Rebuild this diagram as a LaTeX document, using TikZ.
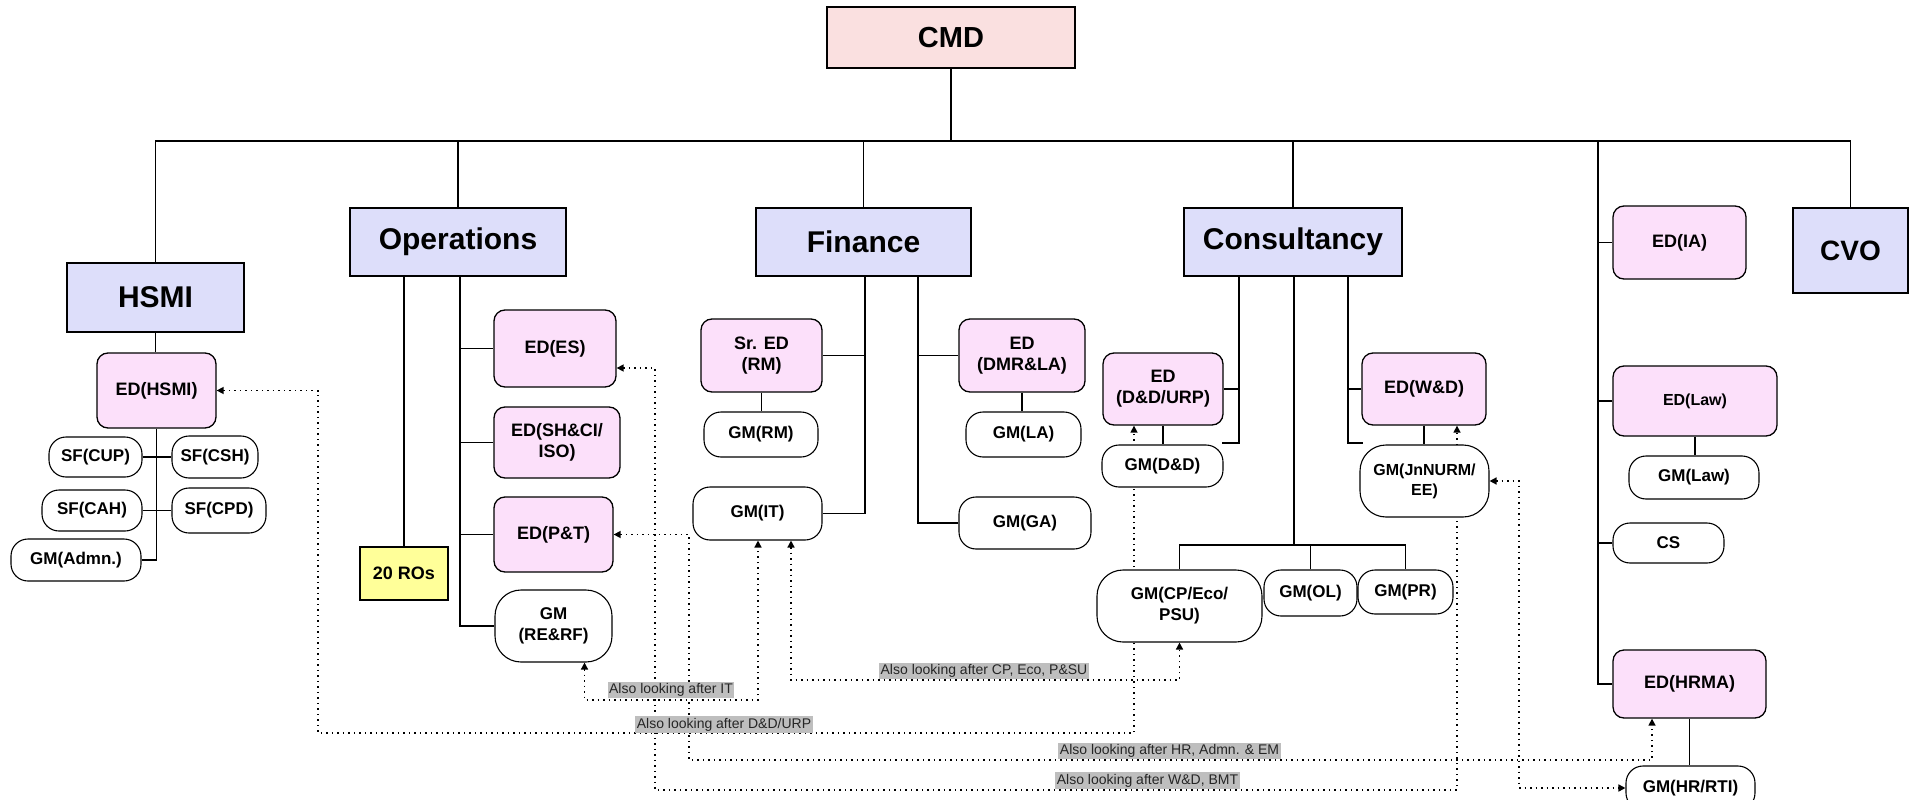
\documentclass[tikz,border=0pt]{standalone}
\usepackage{fontspec}
\setmainfont{Liberation Sans}
\usetikzlibrary{arrows.meta,calc}
\pgfdeclarelayer{back}
\pgfdeclarelayer{bg}
\pgfsetlayers{back,bg,main}
\definecolor{hdblue}{RGB}{221,222,250}
\definecolor{edpink}{RGB}{252,224,250}
\definecolor{cmdpink}{RGB}{250,224,224}
\definecolor{roy}{RGB}{255,255,153}
\definecolor{lblgray}{RGB}{190,190,190}
\begin{document}
\begin{tikzpicture}[x=1pt,y=-1pt,
 every node/.style={inner sep=0pt, align=center},
 conn/.style={line width=1.3pt, black},
 head/.style={draw, line width=1.3pt, fill=hdblue, font=\bfseries\fontsize{30}{34}\selectfont},
 topbox/.style={draw, line width=1.3pt, fill=cmdpink, font=\bfseries\fontsize{29}{32}\selectfont},
 edbox/.style={draw, line width=1.3pt, fill=edpink, rounded corners=11pt, font=\bfseries\fontsize{18}{21}\selectfont},
 gmbox/.style={draw, line width=1.1pt, fill=white, rounded corners=17pt, font=\bfseries\fontsize{17}{21}\selectfont},
 gmtall/.style={gmbox, rounded corners=26pt},
 robox/.style={draw, line width=1.3pt, fill=roy, font=\bfseries\fontsize{18}{21}\selectfont},
 dotl/.style={line width=1.5pt, dash pattern=on 1.5pt off 4pt, {Triangle[length=7pt,width=7pt]}-{Triangle[length=7pt,width=7pt]}},
 lbl/.style={fill=lblgray, inner sep=1.5pt, font=\fontsize{14}{16}\selectfont, text=black!85}
]
\useasboundingbox (0,0) rectangle (1912,800);
\clip (0,0) rectangle (1912,800);
\begin{pgfonlayer}{back}
\fill[white] (0,0) rectangle (1912,800);
\end{pgfonlayer}

% top level
\node[topbox, minimum width=248pt, minimum height=61pt] (cmd) at (951,37.5) {CMD};
\node[head, minimum width=177pt, minimum height=69pt] (hsmi) at (155.5,297.5) {HSMI};
\node[head, minimum width=216pt, minimum height=68pt] (ops) at (458,242) {Operations};
\node[head, minimum width=215pt, minimum height=68pt] (fin) at (863.5,242) {Finance};
\node[head, minimum width=218pt, minimum height=68pt] (cons) at (1293,242) {Consultancy};
\node[head, minimum width=115pt, minimum height=85pt, font=\bfseries\fontsize{28}{30}\selectfont] (cvo) at (1850.5,250.5) {CVO};

\coordinate (bus) at (951,141);
\coordinate (rc) at (1598,141);
\draw[conn] (cmd.south) -- (bus);
\draw[conn] (hsmi.north) |- (bus) -| (cvo.north);
\draw[conn] (ops.north) -- (ops.north |- bus);
\draw[conn] (fin.north) -- (fin.north |- bus);
\draw[conn] (cons.north) -- (cons.north |- bus);

% HSMI
\node[edbox, minimum width=119pt, minimum height=75pt] (edhsmi) at (156.5,390.5) {ED(HSMI)};
\node[gmbox, minimum width=93pt, minimum height=40pt] (sfcup) at (95.5,457) {SF(CUP)};
\node[gmbox, minimum width=86pt, minimum height=42pt] (sfcsh) at (215,457) {SF(CSH)};
\node[gmbox, minimum width=100pt, minimum height=41pt] (sfcah) at (92,510.5) {SF(CAH)};
\node[gmbox, minimum width=94pt, minimum height=45pt] (sfcpd) at (219,510.5) {SF(CPD)};
\node[gmbox, minimum width=130pt, minimum height=42pt] (gmadmn) at (76,560) {GM(Admn.)};
\draw[conn] (hsmi.south) -- (hsmi.south |- edhsmi.north);
\draw[conn] (edhsmi.south) |- (gmadmn.east);
\draw[conn] (sfcup.east) -- (sfcsh.west);
\draw[conn] (sfcah.east) -- (sfcpd.west);

% Operations
\coordinate (opsB) at (460,276);
\node[robox, minimum width=88pt, minimum height=53pt] (ros) at (404,573.5) {20 ROs};
\node[edbox, minimum width=122pt, minimum height=77pt] (edes) at (555,348.5) {ED(ES)};
\node[edbox, minimum width=126pt, minimum height=71pt] (edsh) at (557,442.5) {ED(SH\&CI/\\ISO)};
\node[edbox, minimum width=119pt, minimum height=75pt] (edpt) at (553.5,534.5) {ED(P\&T)};
\node[gmtall, minimum width=117pt, minimum height=72pt] (gmre) at (553.5,626) {GM\\(RE\&RF)};
\draw[conn] (ros.north) -- (ros.north |- ops.south);
\draw[conn] (opsB) |- (gmre.west);
\draw[conn] (opsB |- edes.west) -- (edes.west);
\draw[conn] (opsB |- edsh.west) -- (edsh.west);
\draw[conn] (opsB |- edpt.west) -- (edpt.west);

% Finance
\coordinate (finA) at (865,276);
\coordinate (finB) at (918,276);
\node[edbox, minimum width=121pt, minimum height=73pt] (sred) at (761.5,355.5) {Sr. ED\\(RM)};
\node[gmbox, minimum width=114pt, minimum height=45pt] (gmrm) at (761,434.5) {GM(RM)};
\node[gmbox, minimum width=129pt, minimum height=53pt] (gmit) at (757.5,513.5) {GM(IT)};
\node[edbox, minimum width=126pt, minimum height=73pt] (eddmr) at (1022,355.5) {ED\\(DMR\&LA)};
\node[gmbox, minimum width=115pt, minimum height=45pt] (gmla) at (1023.5,434.5) {GM(LA)};
\node[gmbox, minimum width=132pt, minimum height=52pt] (gmga) at (1025,523) {GM(GA)};
\draw[conn] (finA) |- (gmit.east);
\draw[conn] (finA |- sred.east) -- (sred.east);
\draw[conn] (sred.south) -- (sred.south |- gmrm.north);
\draw[conn] (finB) |- (gmga.west);
\draw[conn] (finB |- eddmr.west) -- (eddmr.west);
\draw[conn] (eddmr.south) -- (eddmr.south |- gmla.north);

% Consultancy
\coordinate (consA) at (1239,276);
\coordinate (consAe) at (1222,443);
\coordinate (consB) at (1294,276);
\coordinate (cpbus) at (1294,545);
\coordinate (consC) at (1348,276);
\coordinate (consCe) at (1363,443);
\node[edbox, minimum width=120pt, minimum height=72pt] (eddd) at (1163,389) {ED\\(D\&D/URP)};
\node[gmbox, minimum width=121pt, minimum height=42pt] (gmdd) at (1162.5,466) {GM(D\&D)};
\node[edbox, minimum width=124pt, minimum height=72pt] (edwd) at (1424,389) {ED(W\&D)};
\node[gmtall, minimum width=129pt, minimum height=72pt, font=\bfseries\fontsize{16}{20}\selectfont] (gmjn) at (1424.5,481) {GM(JnNURM/\\EE)};
\node[gmtall, minimum width=165pt, minimum height=72pt] (gmcp) at (1179.5,606) {GM(CP/Eco/\\PSU)};
\node[gmbox, minimum width=93pt, minimum height=46pt] (gmol) at (1310.5,593) {GM(OL)};
\node[gmbox, minimum width=95pt, minimum height=44pt] (gmpr) at (1405.5,592) {GM(PR)};
\draw[conn] (consA) |- (consAe);
\draw[conn] (consA |- eddd.east) -- (eddd.east);
\draw[conn] (eddd.south) -- (eddd.south |- gmdd.north);
\draw[conn] (consB) -- (cpbus);
\draw[conn] (gmcp.north) |- (cpbus) -| (gmpr.north);
\draw[conn] (gmol.north) -- (gmol.north |- cpbus);
\draw[conn] (consC) |- (consCe);
\draw[conn] (consC |- edwd.west) -- (edwd.west);
\draw[conn] (edwd.south) -- (edwd.south |- gmjn.north);

% right column
\node[edbox, minimum width=133pt, minimum height=73pt] (edia) at (1679.5,242.5) {ED(IA)};
\node[edbox, minimum width=164pt, minimum height=70pt, font=\bfseries\fontsize{16}{19}\selectfont] (edlaw) at (1695,401) {ED(Law)};
\node[gmbox, minimum width=130pt, minimum height=43pt] (gmlaw) at (1694,477.5) {GM(Law)};
\node[gmbox, minimum width=111pt, minimum height=40pt] (cs) at (1668.5,543) {CS};
\node[edbox, minimum width=153pt, minimum height=68pt] (edhrma) at (1689.5,684) {ED(HRMA)};
\node[gmbox, minimum width=129pt, minimum height=44pt] (gmhr) at (1690.5,788) {GM(HR/RTI)};
\draw[conn] (rc) |- (edhrma.west);
\draw[conn] (rc |- edia.west) -- (edia.west);
\draw[conn] (rc |- edlaw.west) -- (edlaw.west);
\draw[conn] (rc |- cs.west) -- (cs.west);
\draw[conn] (edlaw.south) -- (edlaw.south |- gmlaw.north);
\draw[conn] (edhrma.south) -- (edhrma.south |- gmhr.north);

% dotted "also looking after" links
\coordinate (dA) at (318,733);
\coordinate (ddA) at ($(eddd.south)+(-29,0)$);
\coordinate (reA) at ($(gmre.south)+(31,0)$);
\coordinate (itlow) at (671,700);
\coordinate (itA) at ($(gmit.south)+(0.5,0)$);
\coordinate (itB) at ($(gmit.south)+(33.5,0)$);
\coordinate (cplow) at (985,680);
\coordinate (hrB) at (689,760);
\coordinate (hrA) at ($(edhrma.south)+(-37.5,0)$);
\coordinate (esA) at ($(edes.east)+(0,19.5)$);
\coordinate (wdB) at (655,790);
\coordinate (wdA) at ($(edwd.south)+(33,0)$);
\coordinate (jnB) at (1519,0);
\begin{pgfonlayer}{bg}
\draw[dotl] (edhsmi.east) -| (dA) -| (ddA);
\draw[dotl] (reA) |- (itlow) -| (itA);
\draw[dotl] (itB) |- (cplow) -| (gmcp.south);
\draw[dotl] (edpt.east) -| (hrB) -| (hrA);
\draw[dotl] (esA) -| (wdB) -| (wdA);
\draw[dotl] (gmjn.east) -| (jnB |- gmhr.west) -- (gmhr.west);
\end{pgfonlayer}

\node[lbl] (lit) at (671,690) {Also looking after IT};
\node[lbl] (lcp) at (984,671) {Also looking after CP, Eco, P\&SU};
\node[lbl] (ldd) at (724,724.5) {Also looking after D\&D/URP};
\node[lbl] (lhr) at (1169.5,751) {Also looking after HR, Admn. \& EM};
\node[lbl] (lwd) at (1147.5,780.5) {Also looking after W\&D, BMT};
\end{tikzpicture}
\end{document}
